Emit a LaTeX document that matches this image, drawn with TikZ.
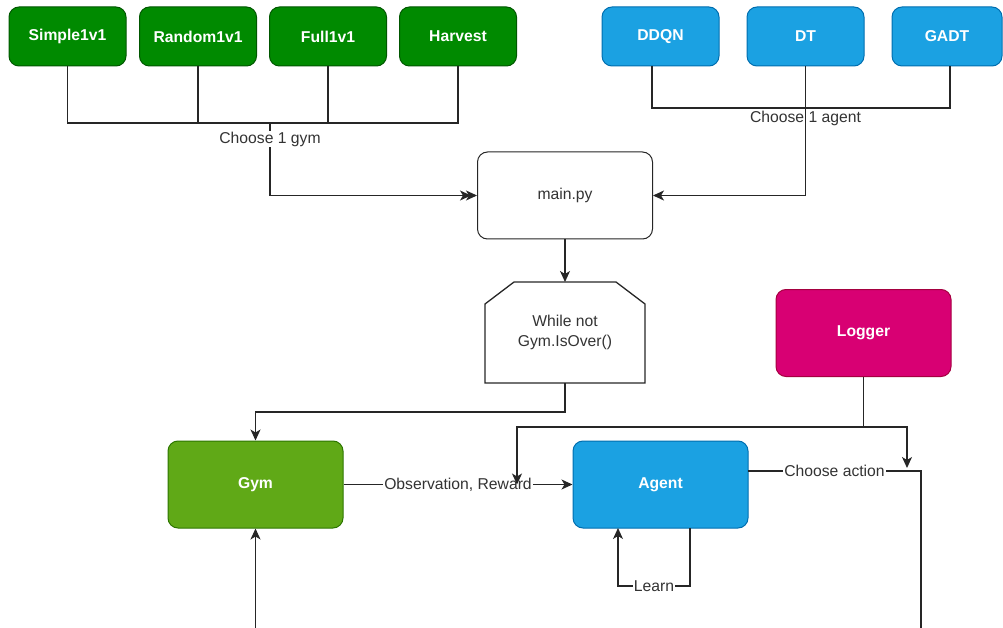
\documentclass[tikz,border=0pt]{standalone}
\usepackage{fontspec}
\setmainfont{Liberation Sans}
\usetikzlibrary{arrows.meta}
\definecolor{gfill}{HTML}{008A00}
\definecolor{gline}{HTML}{005700}
\definecolor{bfill}{HTML}{1BA1E2}
\definecolor{bline}{HTML}{006EAF}
\definecolor{gymfill}{HTML}{60A917}
\definecolor{gymline}{HTML}{2D7600}
\definecolor{lfill}{HTML}{D80073}
\definecolor{lline}{HTML}{A50040}
\definecolor{txt}{HTML}{333333}
\tikzset{
  box/.style={rectangle, rounded corners=10pt, line width=1pt, inner sep=0pt,
    font=\fontsize{15.7}{18}\selectfont\bfseries, text=white},
  smallbox/.style={box, minimum width=117pt, minimum height=59pt},
  bigbox/.style={box, minimum width=175pt, minimum height=87pt},
  greenbox/.style={smallbox, fill=gfill, draw=gline},
  bluebox/.style={smallbox, fill=bfill, draw=bline},
  conn/.style={line width=1.3pt, draw=black!85},
  arr/.style={conn, -{Stealth[length=11pt,width=10pt,inset=3pt]}},
  lbl/.style={fill=white, inner sep=1pt, text=txt, font=\fontsize{15.7}{18}\selectfont},
}
\begin{document}
\begin{tikzpicture}[x=1pt,y={(0pt,-1pt)}]
\useasboundingbox (0,0) rectangle (1003,628);
% top gyms
\node[greenbox] (s1) at (67.5,36.5) {Simple1v1};
\node[greenbox] (r1) at (198,36.5) {Random1v1};
\node[greenbox] (f1) at (328,36.5) {Full1v1};
\node[greenbox] (hv) at (458,36.5) {Harvest};
% agents
\node[bluebox] (ddqn) at (660.5,36.5) {DDQN};
\node[bluebox] (dt) at (805.5,36.5) {DT};
\node[bluebox, minimum width=110pt] (gadt) at (947,36.5) {GADT};
% main
\node[bigbox, fill=white, draw=black!85, text=txt, font=\fontsize{15.7}{18}\selectfont] (main) at (565,195.5) {main.py};
% loop
\node[inner sep=0pt, minimum width=160pt, minimum height=101pt, text=txt, align=center,
  font=\fontsize{15.7}{20}\selectfont] (loop) at (565,332.5) {While not\\Gym.IsOver()};
\draw[line width=1.3pt, draw=black!85] (485,383) -- (485,304) -- (514,282) -- (616,282) -- (645,304) -- (645,383) -- cycle;
% lower boxes
\node[bigbox, fill=gymfill, draw=gymline] (gym) at (255.5,484.5) {Gym};
\node[bigbox, fill=bfill, draw=bline] (agent) at (660.5,484.5) {Agent};
\node[bigbox, fill=lfill, draw=lline] (logger) at (863.5,333) {Logger};

% coordinates
\coordinate (gj) at (270,123);
\coordinate (aj) at (805.5,108);
\coordinate (lj) at (863.5,427);
\coordinate (gymin) at (255.5,628);
\coordinate (actout) at (921,628);
\coordinate (ddqnb) at (652,66);

% gym selection
\draw[conn] (s1.south) |- (gj);
\draw[conn] (r1.south) |- (gj);
\draw[conn] (f1.south) |- (gj);
\draw[conn] (hv.south) |- (gj);
\draw[conn, -{Stealth[length=11pt,width=10pt,inset=3pt,sep=-5pt]Stealth[length=11pt,width=10pt,inset=3pt]}]
  (gj) -- (270,195.5) -- (main.west);
\node[lbl] (lgym) at (270,139) {Choose 1 gym};
% agent selection
\draw[conn] (ddqnb) |- (aj);
\draw[conn] (gadt.south -| 950,0) |- (aj);
\node[lbl] (lagent) at (805.5,118.5) {Choose 1 agent};
\draw[arr] (dt.south) -- (805.5,195.5) -- (main.east);
% main -> loop
\draw[arr] (main.south) -- (565,282);
% loop -> gym
\draw[arr] (565,383) -- (565,412) -| (gym.north);
% gym -> agent
\draw[arr] (gym.east) -- node[lbl, pos=0.5] (lobs) {Observation, Reward} (agent.west);
% logger
\draw[conn] (logger.south) -- (lj);
\draw[arr] (lj) -| (517,484.5);
\draw[arr] (lj) -| (907,468);
% agent -> action
\draw[conn] (748,471) -- node[lbl, pos=0.5] (lact) {Choose action} (921,471) -- (actout);
% learn
\draw[arr] (690,528) -- (690,586) -- node[lbl] (llearn) {Learn} (618,586) -- (618,528);
% gym input
\draw[arr] (gymin) -- (gym.south);
\end{tikzpicture}
\end{document}
